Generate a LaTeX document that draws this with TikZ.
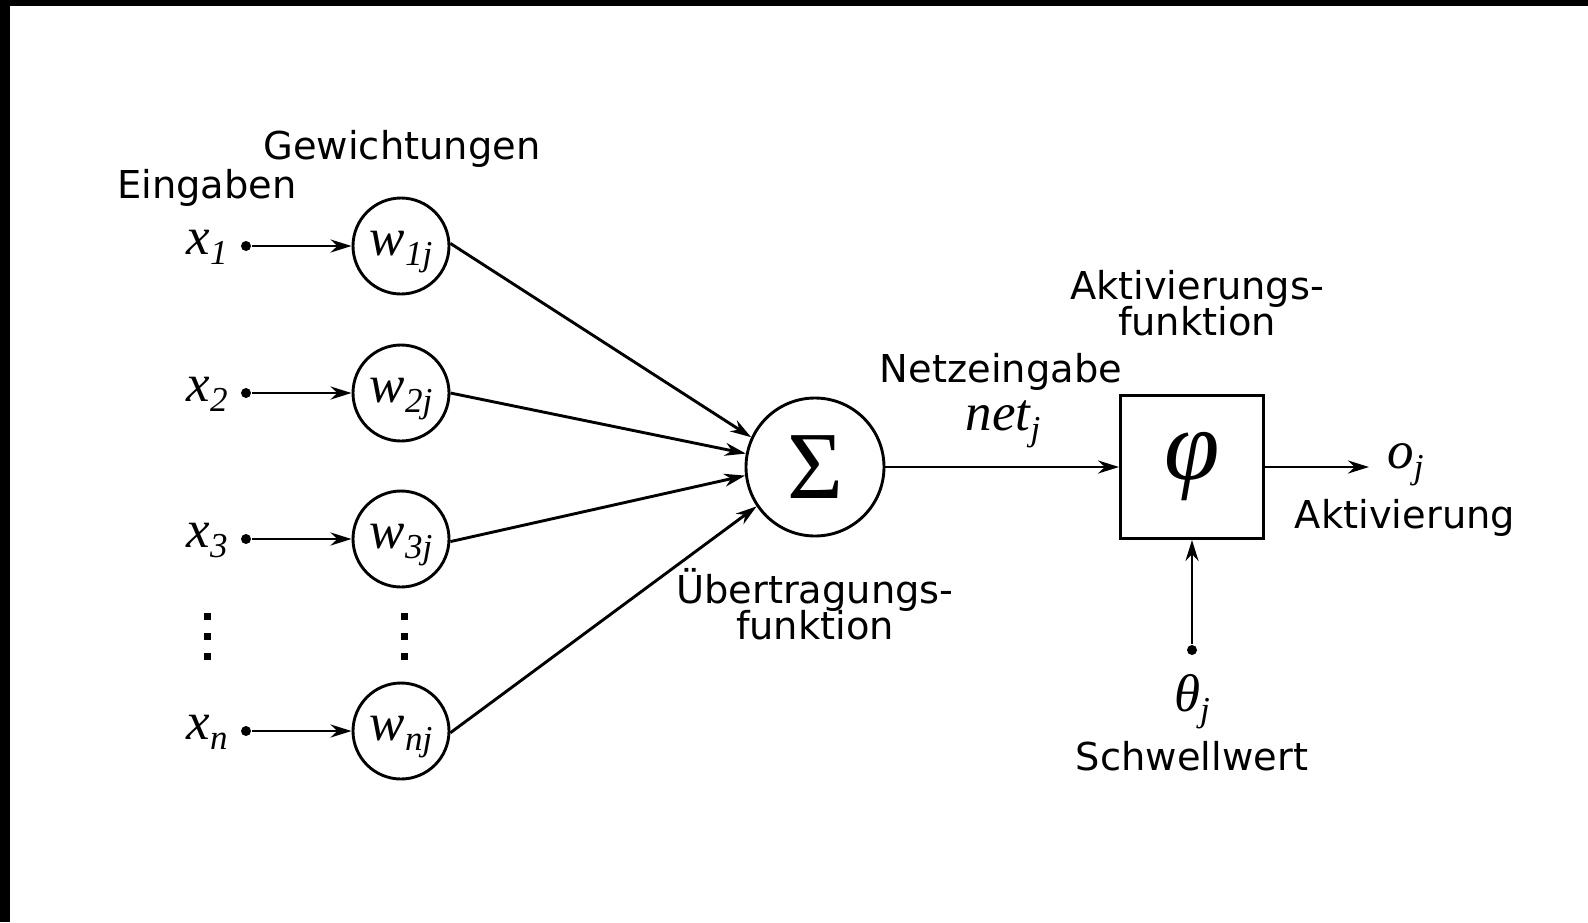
\documentclass[tikz,border=0pt]{standalone}
\usepackage{fontspec}
\setmainfont{DejaVu Sans}
\newfontfamily\tms{Liberation Serif}
\usetikzlibrary{arrows.meta}
\newcommand{\mvar}[2]{{\tms\itshape #1\raisebox{-10pt}{\fontsize{35}{35}\selectfont #2}}}
\newcommand{\lblfont}{\fontsize{38.4}{36}\selectfont\lineskiplimit-50pt\relax}
\begin{document}
\begin{tikzpicture}[x=1pt,y=-1pt,
  line width=2.9pt,
  lbl/.style={font=\lblfont, inner sep=0pt, align=center},
  mth/.style={font=\fontsize{53}{53}\selectfont, inner sep=0pt},
  wnode/.style={circle, draw, minimum size=96pt, inner sep=0pt, font=\fontsize{53}{53}\selectfont, text height=28pt, text depth=10pt},
  arr/.style={-{Stealth[length=21pt,width=13pt]}},
  indot/.style={circle, fill, inner sep=0pt, minimum size=10pt},
  vdot/.style={rectangle, fill, inner sep=0pt, minimum size=7pt}
]
\path[use as bounding box] (0,0) rectangle (1588,922);
\fill (0,0) rectangle (1588,6);
\fill (0,0) rectangle (10,922);

% inputs
\node[indot] (d1) at (246,246) {};
\node[indot] (d2) at (246,393) {};
\node[indot] (d3) at (246,539) {};
\node[indot] (dn) at (246,731) {};
\node[mth, anchor=base east] (x1) at (229,254) {\mvar{x}{1}};
\node[mth, anchor=base east] (x2) at (229,401) {\mvar{x}{2}};
\node[mth, anchor=base east] (x3) at (229,547) {\mvar{x}{3}};
\node[mth, anchor=base east] (xn) at (229,739) {\mvar{x}{n}};

% weights
\node[wnode] (w1) at (401,246) {\mvar{w}{1j}};
\node[wnode] (w2) at (401,393) {\mvar{w}{2j}};
\node[wnode] (w3) at (401,539) {\mvar{w}{3j}};
\node[wnode] (wn) at (401,731) {\mvar{w}{nj}};

% vertical dots
\node[vdot] (l1) at (207,616) {};
\node[vdot] (l2) at (207,636) {};
\node[vdot] (l3) at (207,656) {};
\node[vdot] (r1) at (404,616) {};
\node[vdot] (r2) at (404,636) {};
\node[vdot] (r3) at (404,656) {};

% sum and activation
\node[circle, draw, minimum size=138pt, inner sep=0pt, font=\fontsize{96}{96}\selectfont\tms] (S) at (815,467) {Σ};
\node[rectangle, draw, minimum size=143pt, inner sep=0pt, font=\fontsize{100}{100}\selectfont\tms\itshape] (P) at (1192,467) {φ};
\coordinate (oend) at (1369,467);
\node[indot] (t) at (1192,650) {};

% connectors
\draw[arr] (d1) -- (w1);
\draw[arr] (d2) -- (w2);
\draw[arr] (d3) -- (w3);
\draw[arr] (dn) -- (wn);
\draw[arr] (w1.3) -- (S.155);
\draw[arr] (w2.0) -- (S.169);
\draw[arr] (w3.-3) -- (S.187);
\draw[arr] (wn.-2) -- (S.214);
\draw[arr] (S) -- (P);
\draw[arr] (P.east) -- (oend);
\draw[arr] (t) -- (P);

% labels
\node[lbl, anchor=base] (gew) at (402,159) {Gewichtungen};
\node[lbl, anchor=base] (ein) at (207,198) {Eingaben};
\node[lbl, anchor=base] (akf) at (1197,335) {Aktivierungs-\\funktion};
\node[lbl, anchor=base] (netz) at (1001,382) {Netzeingabe};
\node[mth, anchor=base] (net) at (1003,430) {\mvar{net}{j}};
\node[lbl, anchor=base] (uef) at (815,639) {Übertragungs-\\funktion};
\node[mth, anchor=base west] (oj) at (1386,468) {\mvar{o}{j}};
\node[lbl, anchor=base] (akt) at (1405,528) {Aktivierung};
\node[mth, anchor=base] (th) at (1192,711) {\mvar{θ}{j}};
\node[lbl, anchor=base] (sw) at (1192,770) {Schwellwert};
\end{tikzpicture}
\end{document}
